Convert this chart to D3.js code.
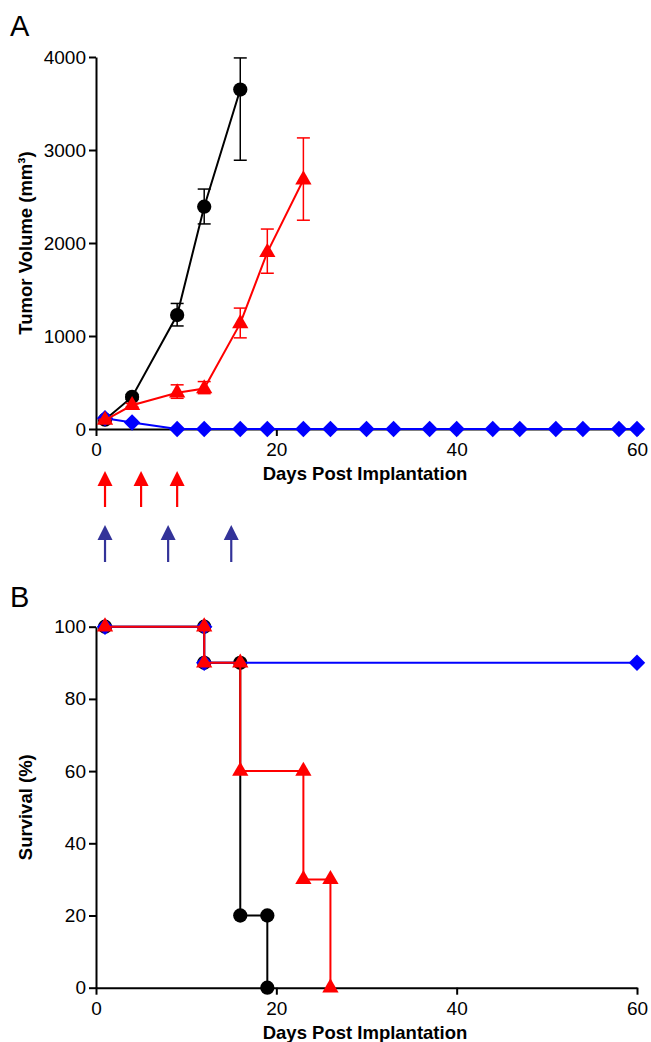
<!DOCTYPE html>
<html>
<head>
<meta charset="utf-8">
<script src="https://cdn.jsdelivr.net/npm/d3@7"></script>
<style>
  body { margin: 0; background: #fff; }
  svg { display: block; font-family: "Liberation Sans", Arial, Helvetica, sans-serif; }
</style>
</head>
<body>
<svg id="chart" width="651" height="1042"></svg>
<script>
// ---- data ----
// panel A: tumor volume (mm3)
var ctrlDays = [1, 4, 9, 12, 16];
var ctrlVol  = [100, 345, 1225, 2390, 3650];
var ctrlLo   = [100, 320, 1108, 2205, 2890];
var ctrlHi   = [100, 370, 1350, 2580, 3990];

var redDays = [1, 4, 9, 12, 16, 19, 23];
var redVol  = [95, 255, 390, 435, 1135, 1900, 2680];
var redLo   = [85, 235, 330, 380, 980, 1675, 2245];
var redHi   = [105, 275, 475, 510, 1300, 2150, 3130];

var blueDays = [1, 4, 9, 12, 16, 19, 23, 26, 30, 33, 37, 40, 44, 47, 51, 54, 58, 60];
var blueVol  = [115, 70, 0, 0, 0, 0, 0, 0, 0, 0, 0, 0, 0, 0, 0, 0, 0, 0];

// treatment arrows (days)
var redArrowDays = [1, 5, 9];
var blueArrowDays = [1, 8, 15];

// panel B: survival (%)
var survCtrlDays = [1, 12, 12, 16, 16, 19, 19];
var survCtrl     = [100, 100, 90, 90, 20, 20, 0];
var survRedDays  = [1, 12, 12, 16, 16, 23, 23, 26, 26];
var survRed      = [100, 100, 90, 90, 60, 60, 30, 30, 0];
var survBlueDays = [1, 12, 12, 60];
var survBlue     = [100, 100, 90, 90];

var xTicks = [0, 20, 40, 60];
var volTicks = [0, 1000, 2000, 3000, 4000];
var survTicks = [0, 20, 40, 60, 80, 100];

var RED = '#ff0000', BLUE = '#0000ff', BLACK = '#000000', ARROW_BLUE = '#333399';

var svg = d3.select('#chart');

// scales
var xScale = d3.scaleLinear().domain([0, 60]).range([96, 637]);
var yVol = d3.scaleLinear().domain([0, 4000]).range([429, 57]);
var ySurv = d3.scaleLinear().domain([0, 100]).range([987.7, 626.7]);

// symbols
var circleSym = d3.symbol().type(d3.symbolCircle).size(160);
var triSym = d3.symbol().type(d3.symbolTriangle).size(115);
var diaSym = d3.symbol().type(d3.symbolSquare).size(135);

function styleAxis(g) {
    g.selectAll('path.domain').attr('stroke-width', 2);
    g.selectAll('.tick line').attr('stroke-width', 2);
    g.selectAll('.tick text').attr('font-size', '19px').attr('fill', '#000')
        .attr('font-family', '"Liberation Sans", Arial, Helvetica, sans-serif');
}

function drawAxes(yScale, yTickVals, yTitle, xTitleY) {
    var y0 = yScale.range()[0];
    svg.append('g')
        .attr('transform', 'translate(0,' + y0 + ')')
        .call(d3.axisBottom(xScale).tickValues(xTicks).tickFormat(d3.format('d'))
            .tickSize(7).tickSizeOuter(0).tickPadding(7))
        .call(styleAxis);
    svg.append('g')
        .attr('transform', 'translate(96,0)')
        .call(d3.axisLeft(yScale).tickValues(yTickVals).tickFormat(d3.format('d'))
            .tickSize(7).tickSizeOuter(0).tickPadding(3))
        .call(styleAxis);

    // axis titles
    svg.append('text')
        .attr('x', 365)
        .attr('y', xTitleY)
        .attr('text-anchor', 'middle')
        .attr('font-size', '18.5px')
        .attr('font-weight', 'bold')
        .text('Days Post Implantation');
    var yc = (yScale.range()[0] + yScale.range()[1]) / 2;
    svg.append('text')
        .attr('transform', 'translate(32,' + yc + ') rotate(-90)')
        .attr('text-anchor', 'middle')
        .attr('font-size', '18.5px')
        .attr('font-weight', 'bold')
        .text(yTitle);
}

function drawSeries(days, vals, yScale, color, sym, rotate, lo, hi) {
    var pts = days.map(function(d, i) { return { x: d, y: vals[i], lo: lo ? lo[i] : null, hi: hi ? hi[i] : null }; });
    var line = d3.line()
        .x(function(d) { return xScale(d.x); })
        .y(function(d) { return yScale(d.y); });
    var g = svg.append('g');

    // error bars behind the markers
    if (lo) {
        pts.forEach(function(d) {
            var x = xScale(d.x);
            g.append('line').attr('x1', x).attr('x2', x)
                .attr('y1', yScale(d.lo)).attr('y2', yScale(d.hi))
                .attr('stroke', color).attr('stroke-width', 1.5);
            [d.lo, d.hi].forEach(function(v) {
                g.append('line').attr('x1', x - 6.5).attr('x2', x + 6.5)
                    .attr('y1', yScale(v)).attr('y2', yScale(v))
                    .attr('stroke', color).attr('stroke-width', 1.5);
            });
        });
    }

    g.append('path')
        .attr('d', line(pts))
        .attr('fill', 'none')
        .attr('stroke', color)
        .attr('stroke-width', 2);

    g.selectAll('path.mark')
        .data(pts)
        .enter()
        .append('path')
        .attr('class', 'mark')
        .attr('d', sym)
        .attr('transform', function(d) {
            return 'translate(' + xScale(d.x) + ',' + yScale(d.y) + ')' + (rotate ? ' rotate(45)' : '');
        })
        .attr('fill', color);
}

function drawArrows(daysList, color, top, bottom) {
    daysList.forEach(function(d) {
        var x = xScale(d);
        svg.append('line')
            .attr('x1', x).attr('x2', x)
            .attr('y1', top + 12).attr('y2', bottom)
            .attr('stroke', color).attr('stroke-width', 2.2);
        svg.append('path')
            .attr('d', 'M' + x + ',' + top + 'L' + (x + 7.5) + ',' + (top + 15) + 'L' + (x - 7.5) + ',' + (top + 15) + 'Z')
            .attr('fill', color);
    });
}

// ---- panel A ----
svg.append('text').attr('x', 10).attr('y', 36).attr('font-size', '29px').text('A');
drawAxes(yVol, volTicks, 'Tumor Volume (mm³)', 480);
drawSeries(ctrlDays, ctrlVol, yVol, BLACK, circleSym, false, ctrlLo, ctrlHi);
drawSeries(blueDays, blueVol, yVol, BLUE, diaSym, true);
drawSeries(redDays, redVol, yVol, RED, triSym, false, redLo, redHi);

drawArrows(redArrowDays, RED, 471, 507);
drawArrows(blueArrowDays, ARROW_BLUE, 525, 562);

// ---- panel B ----
svg.append('text').attr('x', 10).attr('y', 607).attr('font-size', '29px').text('B');
drawAxes(ySurv, survTicks, 'Survival (%)', 1039);
drawSeries(survCtrlDays, survCtrl, ySurv, BLACK, circleSym, false);
drawSeries(survBlueDays, survBlue, ySurv, BLUE, diaSym, true);
drawSeries(survRedDays, survRed, ySurv, RED, triSym, false);
</script>
</body>
</html>
